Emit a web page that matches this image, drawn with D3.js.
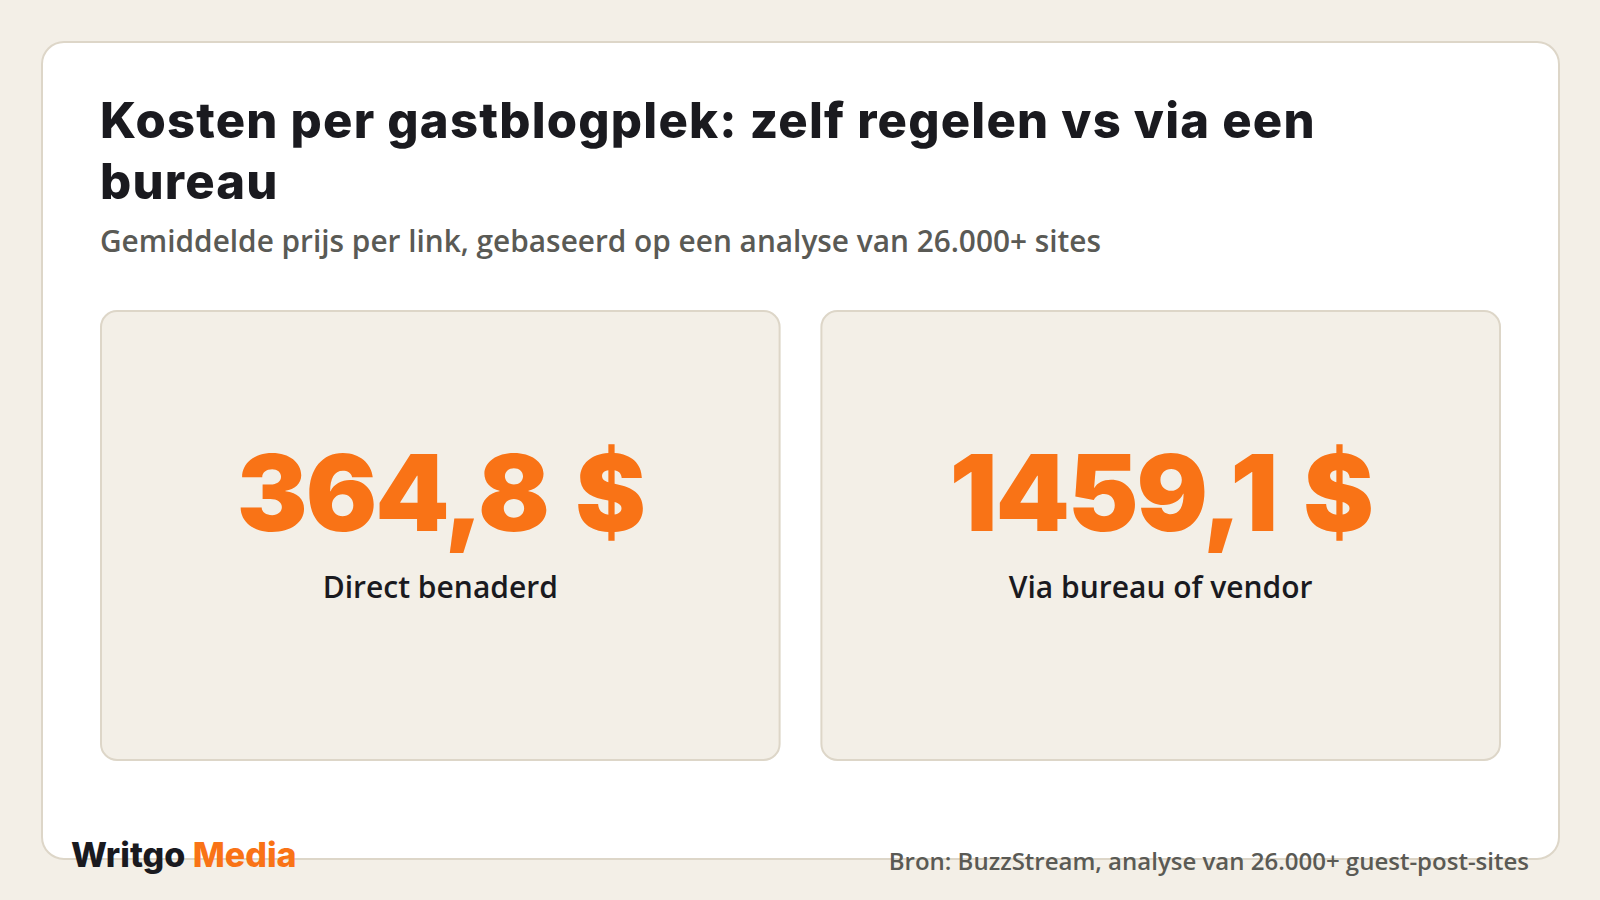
<!DOCTYPE html>
<html><head><meta charset="utf-8">
<script src="https://cdn.jsdelivr.net/npm/d3@7"></script>
<style>body{margin:0;background:#f3efe7}svg{display:block}</style>
</head><body>
<svg id="c" width="1600" height="900"></svg>
<script>
const categories = ["Direct benaderd", "Via bureau of vendor"];
const values = [364.8, 1459.1];
const title = ["Kosten per gastblogplek: zelf regelen vs via een", "bureau"];
const subtitle = "Gemiddelde prijs per link, gebaseerd op een analyse van 26.000+ sites";
const source = "Bron: BuzzStream, analyse van 26.000+ guest-post-sites";

const svg = d3.select("#c");
svg.append("rect").attr("x",42).attr("y",42).attr("width",1517).attr("height",817)
  .attr("rx",22).attr("fill","#fff").attr("stroke","#ddd6c8").attr("stroke-width",2);
const tf = "Inter, 'DejaVu Sans', sans-serif";
title.forEach((t,i)=>svg.append("text").attr("x",100).attr("y",138+i*61).text(t)
  .attr("font-family",tf).attr("font-weight",800).attr("font-size",49).attr("fill","#1a1a1f").attr("letter-spacing",1.2));
svg.append("text").attr("x",100).attr("y",252).text(subtitle)
  .attr("font-family","'Open Sans', sans-serif").attr("font-weight",600).attr("font-size",29.8).attr("fill","#5a5a55");

const x = d3.scaleBand().domain(categories).range([101,1500]).paddingInner(0.058);
const fmt = v => d3.format(".1f")(v).replace(".", ",") + " $";
const g = svg.selectAll("g.p").data(categories).join("g").attr("class","p");
g.append("rect").attr("x",d=>x(d)).attr("y",311).attr("width",x.bandwidth()).attr("height",449)
  .attr("rx",16).attr("fill","#f3efe7").attr("stroke","#ddd6c8").attr("stroke-width",2);
g.append("text").attr("x",d=>x(d)+x.bandwidth()/2).attr("y",531).attr("text-anchor","middle")
  .text((d,i)=>fmt(values[i])).attr("font-family",tf).attr("font-weight",900).attr("font-size",106)
  .attr("fill","#f97316").attr("letter-spacing",-2).attr("word-spacing",8);
g.append("text").attr("x",d=>x(d)+x.bandwidth()/2).attr("y",598).attr("text-anchor","middle")
  .text(d=>d).attr("font-family","'Open Sans', sans-serif").attr("font-weight",600).attr("font-size",30).attr("fill","#1a1a1f");

const logo = svg.append("text").attr("x",71).attr("y",867).attr("font-family",tf).attr("font-weight",800).attr("font-size",34);
logo.append("tspan").text("Writgo ").attr("fill","#1a1a1f");
logo.append("tspan").text("Media").attr("fill","#f97316");
svg.append("text").attr("x",1529).attr("y",870).attr("text-anchor","end").text(source)
  .attr("font-family","'Open Sans', sans-serif").attr("font-weight",600).attr("font-size",24).attr("fill","#5a5a55");
</script>
</body></html>
